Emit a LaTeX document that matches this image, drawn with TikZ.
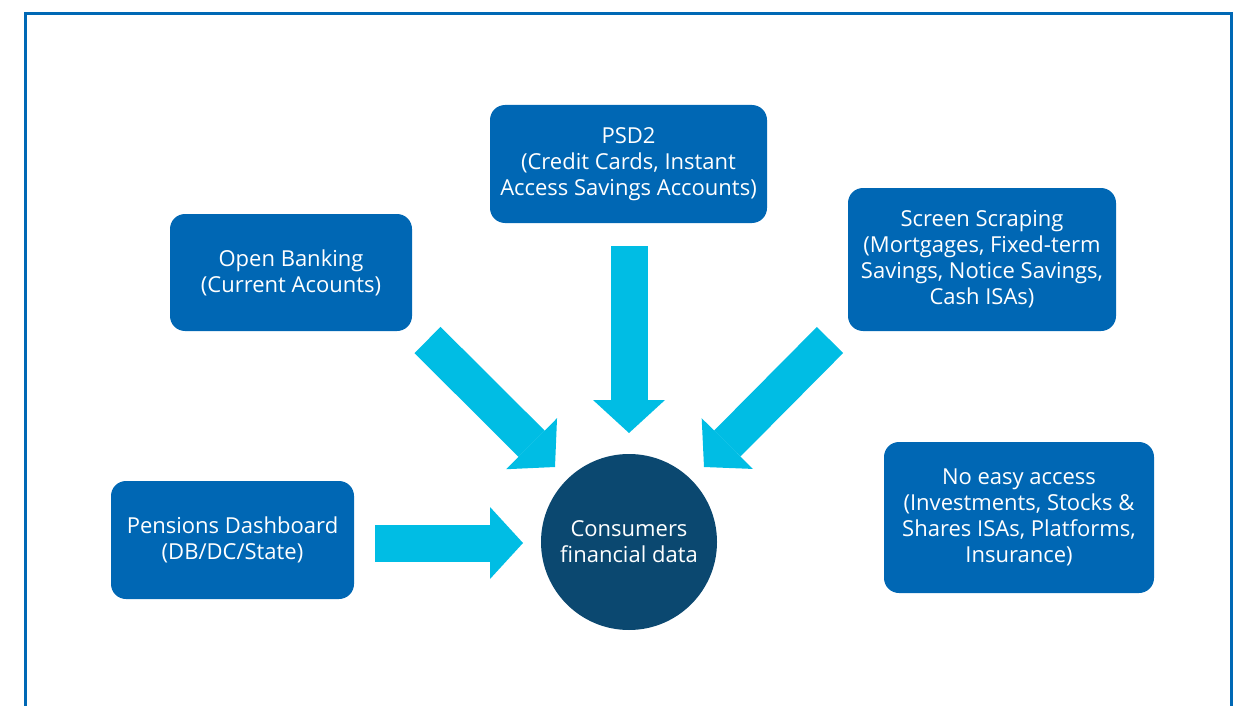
\documentclass[tikz,border=0pt]{standalone}
\usepackage{fontspec}
\setmainfont{Open Sans}
\usetikzlibrary{arrows.meta,positioning}

\definecolor{frameblue}{HTML}{0068B5}
\definecolor{boxblue}{HTML}{0067B4}
\definecolor{hubnavy}{HTML}{0B4870}
\definecolor{arrowcyan}{HTML}{00BDE4}

\tikzset{
  source/.style={rectangle, rounded corners=7.5pt, fill=boxblue, text=white,
    align=center, inner sep=0pt, font=\fontsize{11}{13}\selectfont},
  hub/.style={circle, fill=hubnavy, text=white, align=center, inner sep=0pt,
    minimum size=88pt, font=\fontsize{11}{13}\selectfont},
  bigarrow/.style={draw=arrowcyan, line width=18.5pt,
    -{Triangle[width=36pt,length=16.5pt,line width=0pt]}}
}

\begin{document}
\begin{tikzpicture}[x=0.5pt, y=-0.5pt]
    \useasboundingbox (0,0) rectangle (1242,706);
    \clip (0,0) rectangle (1242,706);

    % Outer frame, runs off the bottom
    \draw[frameblue, line width=1.5pt] (25,730) -- (25,14) -- (1231,14) -- (1231,730);

    % Data sources
    \node[source, minimum width=138.5pt, minimum height=59pt] (psd) at (628.5,164)
        {PSD2\\(Credit Cards, Instant\\Access Savings Accounts)};
    \node[source, minimum width=121pt, minimum height=58.5pt] (openbank) at (291,272.5)
        {Open Banking\\(Current Acounts)};
    \node[source, minimum width=134pt, minimum height=71.5pt] (scrape) at (982,259.5)
        {Screen Scraping\\(Mortgages, Fixed-term\\Savings, Notice Savings,\\Cash ISAs)};
    \node[source, minimum width=135pt, minimum height=75.5pt] (noaccess) at (1019,517.5)
        {No easy access\\(Investments, Stocks \&\\Shares ISAs, Platforms,\\Insurance)};
    \node[source, minimum width=121.5pt, minimum height=59pt] (pensions) at (232.5,540)
        {Pensions Dashboard\\(DB/DC/State)};

    % Centre
    \node[hub] (consumer) at (629,542) {Consumers\\financial data};

    % Arrow ends
    \coordinate (psdtail) at (629,246);
    \coordinate (psdtip) at (629,433);
    \coordinate (opentail) at (427.5,340);
    \coordinate (opentip) at (555,467);
    \coordinate (scrapetail) at (830,340);
    \coordinate (scrapetip) at (704,467);
    \coordinate (pentail) at (375,543);
    \coordinate (pentip) at (523,543);

    % Block arrows into the centre
    \draw[bigarrow] (psdtail) -- (psdtip);
    \draw[bigarrow] (opentail) -- (opentip);
    \draw[bigarrow] (scrapetail) -- (scrapetip);
    \draw[bigarrow] (pentail) -- (pentip);
\end{tikzpicture}
\end{document}
